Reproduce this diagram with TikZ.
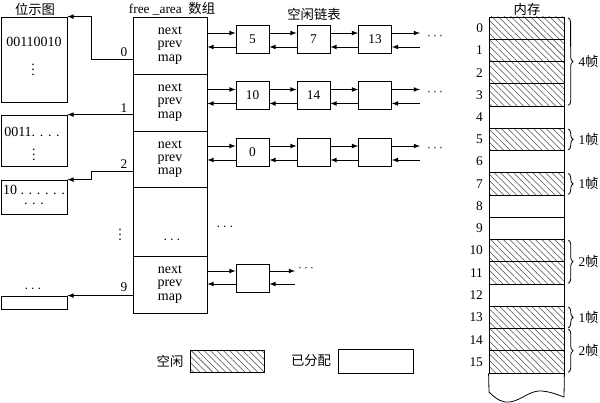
\documentclass[tikz,border=0pt]{standalone}
\usepackage{fontspec}
\setmainfont{Liberation Serif}
\newfontfamily\cjk{Noto Sans CJK SC}
\usetikzlibrary{patterns.meta,decorations.pathreplacing,calc}

\tikzset{
  cell/.style={draw, minimum width=55.5pt, inner sep=0pt, align=center, font=\fontsize{10.5}{9.8}\selectfont},
  bitbox/.style={draw, minimum width=49.5pt, inner sep=0pt},
  bittext/.style={inner sep=0pt, font=\fontsize{10.5}{11}\selectfont},
  listbox/.style={draw, minimum width=24.75pt, minimum height=21pt, inner sep=0pt},
  memcell/.style={draw, minimum width=56.25pt, minimum height=16.69pt, inner sep=0pt},
  freecell/.style={pattern={Lines[angle=-45,distance=3.4pt,line width=0.4pt]}, pattern color=black!70},
  framebrace/.style={decorate, decoration={brace,amplitude=3.5pt}},
}

\begin{document}
\begin{tikzpicture}[x=0.75pt,y=-0.75pt,>=latex,line width=0.6pt,font=\fontsize{10}{11}\selectfont]
\useasboundingbox (0,0) rectangle (600,403);

\node (bmtitle) at (35,9) {\cjk 位示图};
\node (areatitle) at (172,9) {free \_area\enspace{\cjk 数组}};
\node (listtitle) at (314,14) {\cjk 空闲链表};
\node (memtitle) at (527,9) {\cjk 内存};

% free_area array
\node[cell, minimum height=42.75pt] (a0) at (170,45.5) {next\\prev\\map};
\node[cell, minimum height=42.75pt] (a1) at (170,102.5) {next\\prev\\map};
\node[cell, minimum height=42pt] (a2) at (170,159) {next\\prev\\map};
\node[cell, minimum height=51.75pt] (adots) at (170,221.5) {};
\node[cell, minimum height=42.75pt] (a9) at (170,284.5) {next\\prev\\map};
\node[bittext] (cd) at (172,240) {$\cdots$};
\node[bittext] (vd) at (120,231) {$\vdots$};
\node[bittext] (hd) at (225,227) {$\cdots$};

% bitmaps
\node[bitbox, minimum height=63.75pt] (bm0) at (34,59.5) {};
\node[bittext] (bm0txt) at (34,42) {00110010};
\node[bittext] (bm0dots) at (33,66) {$\vdots$};
\node[bitbox, minimum height=38.25pt] (bm1) at (34,140.5) {};
\node[bittext] (bm1txt) at (32,132) {0011. . . .};
\node[bittext] (bm1dots) at (34,151) {$\vdots$};
\node[bitbox, minimum height=25.5pt] (bm2) at (34,197) {};
\node[bittext] (bm2txt) at (34,190) {10 . . . . . .};
\node[bittext] (bm2dots) at (34,204) {. . .};
\node[bitbox, minimum height=9.75pt] (bm9) at (34,302.5) {};
\node[bittext] (bm9dots) at (33,289) {$\cdots$};

\node (i0) at (124,52) {0};
\node (i1) at (124,108) {1};
\node (i2) at (124,164) {2};
\node (i9) at (124,287) {9};

\draw[->] ([yshift=-10.5pt]a0.west) -- ++(-41,0) |- (bm0.north east);
\draw[->] (a1.west |- bm1.north) -- (bm1.north east);
\draw[->] ([yshift=-9pt]a2.west) -- ++(-41,0) |- (bm2.north east);
\draw[->] (a9.west |- bm9.north) -- (bm9.north east);

% free lists
\node[listbox] (l00) at (252.5,39) {5};
\node[listbox] (l01) at (313.5,39) {7};
\node[listbox] (l02) at (375,39) {13};
\node[listbox] (l10) at (252.5,95.5) {10};
\node[listbox] (l11) at (313.5,95.5) {14};
\node[listbox] (l12) at (375,95.5) {};
\node[listbox] (l20) at (252.5,152) {0};
\node[listbox] (l21) at (313.5,152) {};
\node[listbox] (l22) at (375,152) {};
\node[listbox] (l90) at (252.5,278) {};

\coordinate (t0) at (420,39);
\coordinate (t1) at (420,95.5);
\coordinate (t2) at (420,152);
\coordinate (t9) at (295,278);
\node (e0) at (435,37) {$\cdots$};
\node (e1) at (435,93) {$\cdots$};
\node (e2) at (435,149) {$\cdots$};
\node (e9) at (306,269) {$\cdots$};

\foreach \r in {0,1,2}{
  \draw[->] ($(a\r.east|-l\r0.west)+(0,-6)$) -- ($(l\r0.west)+(0,-6)$);
  \draw[<-] ($(a\r.east|-l\r0.west)+(0,8)$) -- ($(l\r0.west)+(0,8)$);
  \draw[->] ($(l\r0.east)+(0,-6)$) -- ($(l\r1.west)+(0,-6)$);
  \draw[<-] ($(l\r0.east)+(0,8)$) -- ($(l\r1.west)+(0,8)$);
  \draw[->] ($(l\r1.east)+(0,-6)$) -- ($(l\r2.west)+(0,-6)$);
  \draw[<-] ($(l\r1.east)+(0,8)$) -- ($(l\r2.west)+(0,8)$);
  \draw[->] ($(l\r2.east)+(0,-6)$) -- ($(t\r)+(0,-6)$);
  \draw[<-] ($(l\r2.east)+(0,8)$) -- ($(t\r)+(0,8)$);
}
\draw[->] ($(a9.east|-l90.west)+(0,-7)$) -- ($(l90.west)+(0,-7)$);
\draw[<-] ($(a9.east|-l90.west)+(0,6)$) -- ($(l90.west)+(0,6)$);
\draw[->] ($(l90.east)+(0,-7)$) -- ($(t9)+(0,-7)$);
\draw[<-] ($(l90.east)+(0,6)$) -- ($(t9)+(0,6)$);

% memory
\foreach \i/\s in {0/freecell,1/freecell,2/freecell,3/freecell,4/,5/freecell,6/,7/freecell,8/,9/,10/freecell,11/freecell,12/,13/freecell,14/freecell,15/freecell}{
  \node[memcell,\s] (m\i) at (526.5,28.125+22.25*\i) {};
  \node[left,inner sep=2pt] (n\i) at ([xshift=-2pt]m\i.west) {\i};
}
\draw (m15.south west) -- (489,392) .. controls (497,400) and (503,403) .. (510,402)
  .. controls (522,400) and (530,390) .. (542,391) .. controls (552,392) and (558,395) .. (564,397)
  -- (m15.south east);

\draw[framebrace] ($(m0.north east)+(4,1)$) -- ($(m3.south east)+(4,-1)$) node[midway,right=4pt] (f0) {4{\cjk 帧}};
\draw[framebrace] ($(m5.north east)+(4,1)$) -- ($(m5.south east)+(4,-1)$) node[midway,right=4pt] (f5) {1{\cjk 帧}};
\draw[framebrace] ($(m7.north east)+(4,1)$) -- ($(m7.south east)+(4,-1)$) node[midway,right=4pt] (f7) {1{\cjk 帧}};
\draw[framebrace] ($(m10.north east)+(4,1)$) -- ($(m11.south east)+(4,-1)$) node[midway,right=4pt] (f10) {2{\cjk 帧}};
\draw[framebrace] ($(m13.north east)+(4,1)$) -- ($(m13.south east)+(4,-1)$) node[midway,right=4pt] (f13) {1{\cjk 帧}};
\draw[framebrace] ($(m14.north east)+(4,1)$) -- ($(m15.south east)+(4,-1)$) node[midway,right=4pt] (f14) {2{\cjk 帧}};

% legend
\node (freelabel) at (170,361) {\cjk 空闲};
\node[draw,freecell,inner sep=0pt,minimum width=55.5pt,minimum height=16.5pt] (freekey) at (227,361) {};
\node (usedlabel) at (311,361) {\cjk 已分配};
\node[draw,inner sep=0pt,minimum width=56.25pt,minimum height=18pt] (usedkey) at (375.5,361) {};
\end{tikzpicture}
\end{document}
